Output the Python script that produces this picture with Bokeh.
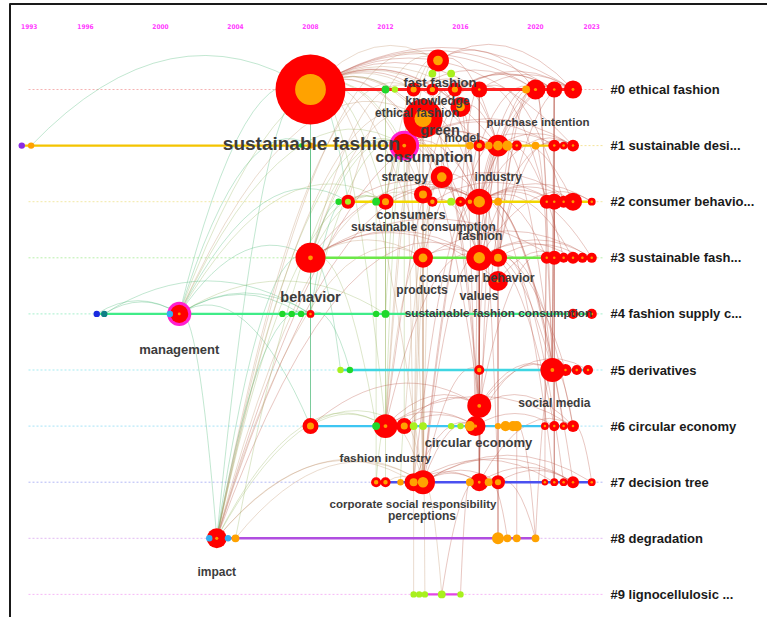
import math
from bokeh.plotting import figure
from bokeh.models import Range1d, ColumnDataSource
from bokeh.core.properties import value
from bokeh.embed import file_html
from bokeh.resources import INLINE

# ---------------------------------------------------------------- data
year_ticks = [1993, 1996, 2000, 2004, 2008, 2012, 2016, 2020, 2023]

cluster_names = [
    "#0 ethical fashion", "#1 sustainable desi...", "#2 consumer behavio...",
    "#3 sustainable fash...", "#4 fashion supply c...", "#5 derivatives",
    "#6 circular economy", "#7 decision tree", "#8 degradation",
    "#9 lignocellulosic ...",
]

# keyword nodes per cluster: year of first appearance, frequency,
# year-ring tone of the core, and whether the node has a citation burst
node_year = [
    [2008, 2012, 2012.5, 2013.5, 2014.5, 2015.7, 2017, 2019.5, 2020, 2021, 2022, 2014.8, 2014.5, 2015.5, 2016, 2014],
    [1992.6, 1993.1, 2007.5, 2008, 2013, 2016.5, 2017, 2017.5, 2018, 2018.5, 2019, 2020, 2021, 2021.5, 2022],
    [2009.5, 2010, 2011.5, 2012, 2014, 2014.5, 2015.5, 2016, 2016.5, 2017, 2018, 2020.6, 2021, 2021.5, 2022, 2023, 2015],
    [2008, 2014, 2017, 2018, 2018, 2020.6, 2021, 2021.5, 2022, 2022.5, 2023],
    [1996.6, 1997, 2000.5, 2001, 2006.5, 2007, 2007.5, 2008, 2011.5, 2012, 2022, 2023],
    [2009.6, 2010.1, 2017, 2020.9, 2021.6, 2022.2, 2022.8],
    [2008, 2011.5, 2012, 2013, 2013.5, 2014, 2015.5, 2016, 2016.5, 2016.8, 2017, 2018, 2018.4, 2018.8, 2019, 2020.5, 2021, 2021.5, 2022],
    [2011.5, 2012, 2012.8, 2013.5, 2014, 2016.5, 2017, 2017.5, 2018, 2020.5, 2021, 2021.5, 2022, 2023],
    [2002.6, 2003, 2003.6, 2004, 2018, 2018.5, 2019, 2020],
    [2013.5, 2013.8, 2014.1, 2015, 2016],
]
node_count = [
    [478, 6, 4, 19, 14, 19, 25, 6, 39, 25, 32, 47, 6, 6, 39, 150],
    [4, 4, 2, 4, 56, 6, 14, 6, 47, 10, 10, 6, 14, 6, 14],
    [4, 19, 6, 25, 32, 10, 6, 10, 10, 66, 6, 19, 25, 14, 32, 6, 47],
    [88, 39, 66, 32, 39, 14, 19, 10, 14, 10, 10],
    [4, 4, 4, 32, 4, 4, 4, 6, 4, 6, 10, 10],
    [4, 4, 10, 56, 14, 10, 10],
    [25, 6, 56, 25, 6, 6, 4, 4, 10, 39, 56, 4, 10, 10, 10, 6, 10, 6, 14],
    [10, 10, 4, 32, 56, 6, 32, 6, 19, 4, 6, 6, 14, 6],
    [4, 39, 4, 6, 14, 6, 6, 6],
    [4, 4, 4, 6, 4],
]
node_tone = [
    "oglooororrrolloo",
    "pogorooooororrr",
    "glgooolrooorrrrro",
    "rooorrrrrrr",
    "btcrgggrggrr",
    "lgorrrr",
    "ogrollllorroooorrrr",
    "ooooooroorrrrr",
    "crcooooo",
    "lllll",
]
node_burst = [
    "1001111011110011",
    "000010101010111",
    "01011101110111111",
    "11111111111",
    "000100010011",
    "0011111",
    "1011000001100001111",
    "11011010111111",
    "01000000",
    "00000",
]
hub_nodes = ["1e", "4d"]

# co-occurrence links between keyword nodes
links = """
0a-0d 0a-0l 0a-0p 0a-0g 0a-0i 0a-0k 0a-1b 0a-1e 0a-1i 0a-2j 0a-3a 0a-3c 0a-2q 0a-0j 0a-1o 0a-2b 0a-4d 0a-6c 0a-7e 0a-8b
4d-4a 4d-4b 4d-4h 4d-4g 4d-3a 4d-1e 4d-2b 4d-0p 4d-6a 4d-2d 4d-4j 4d-8b 4d-0c 4b-4h
3a-3b 3a-3c 3a-2b 3a-2d 3a-1e 3a-0p 3a-6a 3a-0d 3a-2j 3a-3e
8b-3a 8b-1e 8b-2d 8b-0p 8b-3c 8b-6c 8b-7e 8b-2j 8b-1i 8b-7d 8b-0l 8b-4h 8b-2f 8d-7e 8d-1e
1e-0p 1e-0l 1e-2e 1e-1i 1e-0g 1e-2j 1e-3c 1e-1g 1e-6c 1e-0d 1d-4h
2j-0g 2j-1i 2j-3c 2j-3d 2j-0i 2j-2o 2j-1o 2j-2m 2j-0p 2j-2q
2q-0l 2q-0o 2q-1e 2q-2e 2q-3b
6c-6j 6c-6k 6c-3b 6c-2d 6c-7e 6c-4j 6c-7b 6c-0p 6c-6s
6k-3c 6k-2j 6k-0g 6k-5c 6k-7g 6k-6s 6k-5d 6k-3f 6k-0i
7e-7g 7e-7i 7e-6j 7e-0p 7e-2e 7e-3b 7e-7m 7e-1i 7e-2j 7e-7d 7e-6d
7d-7g 7d-3b 7d-2f 7d-0p
7g-3c 7g-2j 7g-0g 7g-1g 7g-7m 7g-6s
0j-1m 1m-2m 2m-3g 3g-5d 5d-6q 6q-7k 0j-3g 1m-5d 2m-6q 0j-7k 0i-2l 2l-7j 3f-6p 1l-5d 0j-5d 2m-7k
0g-1g 1g-2j 2j-3c 3c-5c 5c-6k 0g-3c 1i-2k 2k-3d 3d-7i 3e-6l 1i-3d 7i-8e
0b-2d 2d-4j 4j-6c 6c-7b 0b-4j 2c-4i 4i-6b 6b-7a
3a-4h 4h-6a 1d-3a
0p-2e 2e-3b 3b-6f 6f-7e 1e-6d 6d-7c
8e-7i 8e-6l 8f-7h 8h-6o 8h-7i 8e-3d 8g-6o 8h-5d
9d-7e 9d-7g 9c-6f 9e-7f 9a-7d
5d-0i 5d-2j 5d-6j 5d-1i 5c-3c 5a-3a 5b-4h
0d-0g 0l-0i 0p-0k 0d-0i 0l-0k 0p-0j 0e-0g 0f-0j
1e-1m 1e-1o 1i-1o 1g-1m
2b-2j 2d-2j 2b-2d 2j-2p 2f-2m 2e-2o
3b-3k 3c-3i 3a-3g 3e-3h 3d-3j
6a-6c 6d-6k 6a-6k 6j-6q
7b-7e 7e-7n 7d-7k 7i-7m
6a-3a 6a-0a 6c-0l 6j-0o 6d-2q 7e-0l 7e-1e 3c-0o 3d-0i 3e-1k 2j-1k 3c-1i 6k-2q 6k-1e
7i-2j 7g-1i 6j-2j 6k-0p 7e-3c 7d-1e 6d-1e 4h-1e 4j-1e 2d-0l 2b-0l 2d-0p
0i-3c 0k-2j 1o-3c 2o-1i 3i-2j 5d-3c 6s-3d 7m-2j 0k-1i 2p-3c 3k-2j 1m-3d 5g-6k
6s-5d 7n-6s 0j-2j 3h-1i 2n-0g 6q-3c 7k-2j 0i-1g 2l-0g 3f-2j 5e-3c 6r-2j 7l-3d
0a-0e 0a-0f 0a-0o 0a-1g 0a-2e 0a-3b 0a-2d 0d-1e 0e-2j 0f-1i 0g-0k 0l-1i 0o-1i
2e-2j 2f-3c 2h-0g 2i-1g 3b-3c 3b-1i 3c-3k 3d-0k 6d-6j 6c-0g 6j-1i 7d-6j 7e-5c
7d-2j 7b-6c 6c-3c 6b-3a 4h-2b 4j-0b 2d-1e 7a-6c 8b-3b 8b-6d 8b-0d 4d-1d
"""

# keyword labels and the node each one names
label_text = [
    "sustainable fashion", "consumption", "fast fashion", "knowledge",
    "ethical fashion", "green", "model", "purchase intention", "strategy",
    "industry", "consumers", "sustainable consumption", "fashion",
    "consumer behavior", "products", "values", "behavior",
    "sustainable fashion consumption", "management", "social media",
    "circular economy", "fashion industry", "corporate social responsibility",
    "perceptions", "impact",
]
label_node = [
    "0a", "1e", "0l", "0o", "0p", "0p", "1f", "1i", "2q", "2j", "2e", "2f",
    "3c", "3e", "3b", "3e", "3a", "4j", "4d", "5d", "6j", "6c", "7e", "7e",
    "8b",
]

# ---------------------------------------------------------------- layout
W, H = 767, 617
PX_PER_YEAR = 18.75
ANCHOR_YEAR, ANCHOR_PX = 2008, 310
ROW_TOP_PX, ROW_STEP_PX = 89, 56.1
STACK_PX = 14.5

# nodes stacked above (-) or below (+) their cluster line
STACK_LEVEL = {"0l": -2, "0m": -1.1, "0n": -1.1, "0o": 1.2, "0p": 2,
               "2e": -0.5, "2q": -1.7, "3e": 1.6, "6k": -1.4}

# label placement relative to its node (px right, px down) and font size
LABEL_SHIFT = [
    (1, 54), (20, 11), (2, 22), (-23, -6), (-6, -6), (17, 11), (-8, -8),
    (40, -24), (-37, 0), (19, -25), (-12, 20), (-9, 25), (1, -22),
    (-21, -3), (-1, 32), (-19, 15), (0, 39), (113, -1), (0, 36), (2, 33),
    (3, 16), (0, 32), (-10, 22), (-1, 34), (0, 34),
]
LABEL_PX = [19, 15.5, 13, 12.5, 12, 14.5, 12, 11.5, 12, 12, 13, 12, 12.5,
            12.5, 12, 12.5, 14.5, 11.8, 13, 12, 13, 11.8, 11.5, 12, 12]

TONES = {"o": "#ffa200", "l": "#a8f01e", "g": "#1fd82a", "b": "#1a2be0",
         "t": "#0f7f86", "c": "#34aef0", "p": "#8a2be2", "r": "#ff9a00"}
BURST_RED = "#ff0000"
HUB_RING = "#ff1fd0"

ROW_LINE = ["#ff2020", "#f4c400", "#f2d600", "#6ce848", "#3fec88",
            "#3fd6e2", "#3ec6f2", "#4a50f0", "#b04ee0", "#e444e6"]
ROW_DOTS = ["#f3a0a0", "#f0dc80", "#eee290", "#a8ec98", "#90eec0",
            "#90e6ee", "#90dcf4", "#a0a8f4", "#dca8f0", "#f4a8f4"]


def year_at(px):
    return ANCHOR_YEAR + (px - ANCHOR_PX) / PX_PER_YEAR


def row_at(py):
    return (py - ROW_TOP_PX) / ROW_STEP_PX


def diameter(count):
    return 3.2 * math.sqrt(count)


# flatten the per-cluster node tables
nodes = {}
order = []
for r, years in enumerate(node_year):
    for k, yr in enumerate(years):
        nid = f"{r}{chr(97 + k)}"
        lvl = STACK_LEVEL.get(nid, 0)
        nodes[nid] = dict(
            row=r, year=yr, lvl=lvl,
            y=r + lvl * STACK_PX / ROW_STEP_PX,
            d=diameter(node_count[r][k]),
            tone=node_tone[r][k], burst=node_burst[r][k] == "1",
        )
        order.append(nid)

p = figure(
    width=W, height=H, output_backend="svg", toolbar_location=None,
    x_range=Range1d(year_at(0), year_at(W)),
    y_range=Range1d(row_at(H), row_at(0)),
    x_axis_location=None, y_axis_location=None,
    min_border=0, min_border_left=0, min_border_right=0,
    min_border_top=0, min_border_bottom=0,
    outline_line_color=None, background_fill_color="white",
)
p.grid.visible = False

# picture frame
p.segment(x0=[year_at(9), year_at(9.5)], y0=[row_at(3.5), row_at(3)],
          x1=[year_at(W), year_at(9.5)], y1=[row_at(3.5), row_at(H)],
          line_color="#1a1a1a", line_width=2)

# dotted guide per cluster across the whole time span
n_rows = len(cluster_names)
p.segment(x0=[year_at(28)] * n_rows, x1=[year_at(603)] * n_rows,
          y0=list(range(n_rows)), y1=list(range(n_rows)),
          line_color=ROW_DOTS, line_dash="2 2", line_width=1, line_alpha=0.8)

# links as arcs bowing upward
ex0, ey0, ex1, ey1, ecx, ecy, ecol = [], [], [], [], [], [], []
seen = set()
for pair in links.split():
    a, b = pair.split("-")
    key = tuple(sorted((a, b)))
    if key in seen:
        continue
    seen.add(key)
    na, nb = nodes[a], nodes[b]
    dx_px = abs(na["year"] - nb["year"]) * PX_PER_YEAR
    ex0.append(na["year"]); ey0.append(na["y"])
    ex1.append(nb["year"]); ey1.append(nb["y"])
    ecx.append((na["year"] + nb["year"]) / 2)
    ecy.append(min(na["y"], nb["y"]) - 0.32 * dx_px / ROW_STEP_PX)
    late = max(na["year"], nb["year"])
    if late < 2011:
        ecol.append("#3fb56d")
    elif late < 2013.5:
        ecol.append("#93b45a")
    elif late < 2016:
        ecol.append("#bd8f66")
    else:
        ecol.append("#b8503f")
p.quadratic(x0="x0", y0="y0", x1="x1", y1="y1", cx="cx", cy="cy",
            source=ColumnDataSource(dict(x0=ex0, y0=ey0, x1=ex1, y1=ey1,
                                         cx=ecx, cy=ecy, c=ecol)),
            line_color="c", line_alpha=0.4, line_width=0.8)

# cluster time lines from first to last keyword
for r in range(n_rows):
    ys = [nodes[n]["year"] for n in order if nodes[n]["row"] == r and nodes[n]["lvl"] == 0]
    p.line(x=[min(ys), max(ys)], y=[r, r], line_color=ROW_LINE[r],
           line_width=2.4 if r else 2.8)

# nodes: hub ring, outer burst ring, core
hx = [nodes[n]["year"] for n in hub_nodes]
hy = [nodes[n]["y"] for n in hub_nodes]
hd = [nodes[n]["d"] + 6 for n in hub_nodes]
p.scatter(x=hx, y=hy, size=hd, fill_color=HUB_RING, line_color=None)

bx, by, bd = [], [], []
cx_, cy_, cd, cc = [], [], [], []
for n in order:
    nd = nodes[n]
    if nd["burst"]:
        bx.append(nd["year"]); by.append(nd["y"]); bd.append(nd["d"])
        frac = 0.16 if nd["tone"] == "r" else 0.44
        cx_.append(nd["year"]); cy_.append(nd["y"])
        cd.append(max(nd["d"] * frac, 2.5)); cc.append(TONES[nd["tone"]])
    else:
        cx_.append(nd["year"]); cy_.append(nd["y"])
        cd.append(nd["d"]); cc.append(TONES[nd["tone"]])
p.scatter(x=bx, y=by, size=bd, fill_color=BURST_RED, line_color=None)
p.scatter(x=cx_, y=cy_, size=cd, fill_color=cc, line_color=None)

# keyword labels
lx = [nodes[n]["year"] for n in label_node]
ly = [nodes[n]["y"] for n in label_node]
p.text(x="x", y="y", text="t", x_offset="dx", y_offset="dy",
       text_font_size="fs",
       source=ColumnDataSource(dict(
           x=lx, y=ly, t=label_text,
           dx=[s[0] for s in LABEL_SHIFT], dy=[s[1] for s in LABEL_SHIFT],
           fs=[f"{v}px" for v in LABEL_PX])),
       text_font=value("Liberation Sans"), text_font_style="bold",
       text_color="#3c3c3c", text_align="center", text_baseline="middle")

# cluster names on the right
p.text(x=[year_at(610)] * n_rows, y=list(range(n_rows)), text=cluster_names,
       text_font=value("Liberation Sans"), text_font_style="bold",
       text_font_size="13px", text_color="#1a1a1a",
       text_align="left", text_baseline="middle")

# year marks along the top
p.text(x=year_ticks, y=[row_at(26)] * len(year_ticks),
       text=[str(y) for y in year_ticks],
       text_font=value("DejaVu Sans Condensed"), text_font_style="bold",
       text_font_size="6.5px", text_color="#ff3cff",
       text_align="center", text_baseline="middle")

open("out.html", "w").write(file_html(p, INLINE))
